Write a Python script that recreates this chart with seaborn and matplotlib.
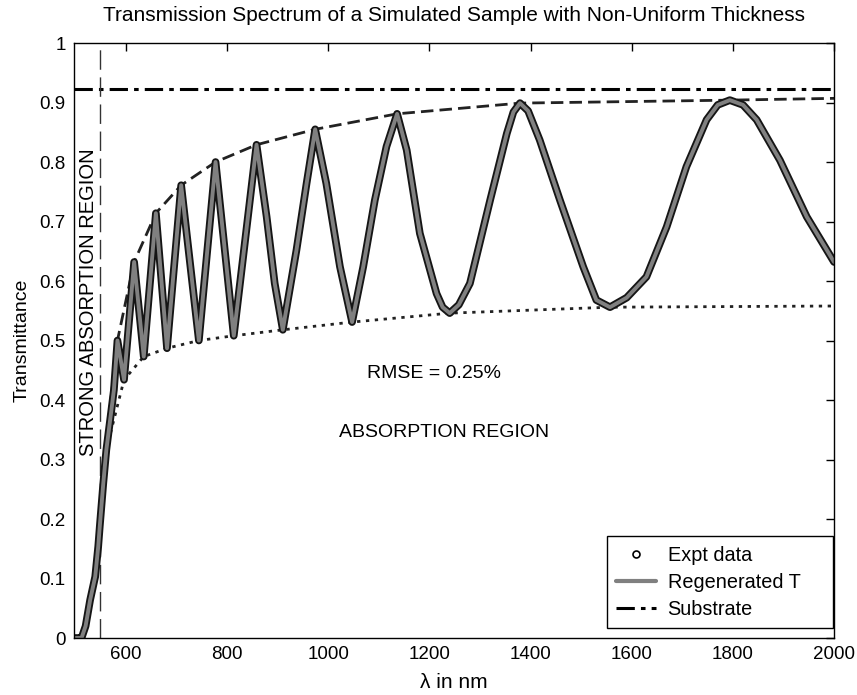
import numpy as np
import pandas as pd
import seaborn as sns
from matplotlib import pyplot as plt
from matplotlib.lines import Line2D

# values
wavelength_nm = [497, 505, 512, 520, 529, 539, 545, 548, 555, 561, 571, 576, 583,
                 596, 616, 635, 659, 681, 709, 744, 777, 813, 858, 878, 894, 910,
                 937, 957, 974, 996, 1023, 1047, 1069, 1092, 1115, 1136, 1155,
                 1181, 1214, 1226, 1240, 1258, 1280, 1320, 1353, 1366, 1379, 1395,
                 1418, 1458, 1504, 1530, 1557, 1590, 1629, 1669, 1708, 1748, 1770,
                 1794, 1820, 1847, 1893, 1946, 2000]
transmittance = [0.0, 0.0, 0.0, 0.02, 0.064, 0.103, 0.154, 0.187, 0.26, 0.316, 0.383,
                 0.417, 0.50, 0.434, 0.632, 0.473, 0.714, 0.487, 0.761, 0.500, 0.800,
                 0.508, 0.829, 0.708, 0.596, 0.518, 0.652, 0.764, 0.855, 0.764, 0.624,
                 0.531, 0.624, 0.736, 0.826, 0.881, 0.820, 0.680, 0.579, 0.556, 0.546,
                 0.560, 0.596, 0.736, 0.848, 0.884, 0.899, 0.886, 0.837, 0.736, 0.624,
                 0.568, 0.556, 0.572, 0.607, 0.691, 0.792, 0.871, 0.896, 0.904, 0.896,
                 0.871, 0.803, 0.708, 0.632]

env_max_nm = [562, 583, 616, 659, 709, 777, 858, 974, 1136, 1379, 1794, 2000]
env_max_t = [0.34, 0.50, 0.632, 0.714, 0.761, 0.800, 0.829, 0.855, 0.881, 0.899, 0.904, 0.907]

env_min_nm = [565, 596, 635, 681, 744, 813, 910, 1047, 1240, 1557, 2000]
env_min_t = [0.33, 0.434, 0.473, 0.487, 0.500, 0.508, 0.518, 0.531, 0.546, 0.556, 0.558]

substrate_t = 0.923
absorption_edge_nm = 548

sns.set_style("white")
plt.rcParams['font.family'] = ['Liberation Sans', 'DejaVu Sans']
plt.rcParams['text.color'] = 'black'
plt.rcParams['axes.labelcolor'] = 'black'

spec = pd.DataFrame({"wl": wavelength_nm, "T": transmittance})
upper = pd.DataFrame({"wl": env_max_nm, "T": env_max_t})
lower = pd.DataFrame({"wl": env_min_nm, "T": env_min_t})

fig = plt.figure(figsize=(8.57, 6.95), dpi=100)
ax = fig.add_axes([0.0863, 0.082, 0.8869, 0.8561])

ax.axhline(substrate_t, color='black', linestyle=(0, (6, 2, 1.5, 2)), linewidth=2.2)
ax.axvline(absorption_edge_nm, color='#333333', linestyle=(0, (14, 5.5)), linewidth=1.0)

sns.lineplot(data=upper, x="wl", y="T", ax=ax, sort=False, estimator=None,
             color='#222222', linestyle=(0, (4.5, 2.2)), linewidth=2.0)
sns.lineplot(data=lower, x="wl", y="T", ax=ax, sort=False, estimator=None,
             color='#222222', linestyle=(0, (1.2, 2)), linewidth=2.0)

# expt data (dense circles -> black outline) and regenerated curve on top
sns.lineplot(data=spec, x="wl", y="T", ax=ax, sort=False, estimator=None,
             color='#151515', linewidth=5.5, solid_joinstyle='round')
sns.lineplot(data=spec, x="wl", y="T", ax=ax, sort=False, estimator=None,
             color='#808080', linewidth=2.8, solid_joinstyle='round')

ax.set_xlim(497, 2000)
ax.set_ylim(0, 1)
ax.set_xticks(np.arange(600, 2001, 200))
ax.set_yticks(np.arange(0, 1.01, 0.1))
ax.set_yticklabels(['0', '0.1', '0.2', '0.3', '0.4', '0.5', '0.6', '0.7', '0.8', '0.9', '1'])
ax.tick_params(direction='in', length=6, width=1, top=True, right=True,
               labelsize=13.5, colors='black', pad=6)
for s in ax.spines.values():
    s.set_color('black')
    s.set_linewidth(1.0)

ax.set_xlabel("λ in nm", fontsize=15, labelpad=7)
ax.set_ylabel("Transmittance", fontsize=14, labelpad=6)
ax.set_title("Transmission Spectrum of a Simulated Sample with Non-Uniform Thickness",
             fontsize=15, pad=16)

ax.text(525, 0.565, "STRONG ABSORPTION REGION", rotation=90, ha='center', va='center',
        fontsize=14.5)
ax.text(1208, 0.445, "RMSE = 0.25%", ha='center', va='center', fontsize=14)
ax.text(1228, 0.345, "ABSORPTION REGION", ha='center', va='center', fontsize=14)

handles = [
    Line2D([], [], linestyle='none', marker='o', markersize=5, markerfacecolor='white',
           markeredgecolor='black', markeredgewidth=1.2),
    Line2D([], [], color='#808080', linewidth=3),
    Line2D([], [], color='black', linestyle=(0, (6, 2, 1.5, 2)), linewidth=2.2),
]
leg = ax.legend(handles, ["Expt data", "Regenerated T", "Substrate"], loc='lower left',
                bbox_to_anchor=(0.701, 0.0168, 0.297, 0.1), mode='expand',
                fontsize=14.3, frameon=True, fancybox=False, framealpha=1,
                edgecolor='black', borderpad=0.46, labelspacing=0.41, handlelength=2.0,
                handletextpad=0.6, borderaxespad=0.0)
leg.get_frame().set_linewidth(1.0)

fig.savefig("out.png", dpi=100)
